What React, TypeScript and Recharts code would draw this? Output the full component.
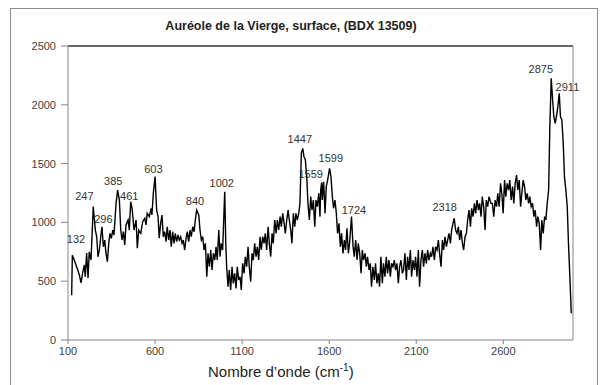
import { Line, LineChart, ReferenceDot, ReferenceLine, XAxis, YAxis } from 'recharts';

const wavenumbers = [
  121, 125, 136, 146, 156, 165, 175, 184, 194, 199, 207, 215, 222, 232, 245, 257, 265, 272, 280, 288,
  295, 303, 311, 318, 326, 334, 341, 349, 357, 364, 376, 385, 395, 403, 410, 418, 426, 433, 445, 452,
  460, 468, 479, 491, 498, 506, 518, 529, 541, 548, 555, 567, 577, 582, 590, 600,
  609, 617, 624, 632, 640, 647, 655, 663, 670, 678, 686, 693, 701, 709, 716, 724, 732, 739, 747, 755,
  762, 770, 778, 785, 793, 801, 808, 816, 824, 831, 839, 851, 858, 866, 874, 881, 889, 897, 904, 912,
  920, 927, 935, 943, 950, 957, 966, 973, 980, 988, 1000, 1006, 1011, 1019, 1026, 1034, 1042, 1049, 1057, 1065,
  1072, 1080,
  1088, 1095, 1103, 1111, 1118, 1126, 1134, 1141, 1149, 1157, 1164, 1172, 1180, 1187, 1195, 1203, 1210, 1218, 1226, 1233,
  1241, 1249, 1256, 1264, 1272, 1279, 1287, 1295, 1302, 1310, 1318, 1325, 1333, 1341, 1348, 1356, 1364, 1371, 1379, 1386,
  1394, 1402, 1409, 1417, 1425, 1432, 1440, 1448, 1455, 1463, 1471, 1478, 1486, 1494, 1501, 1509, 1517, 1524, 1532, 1540,
  1547, 1551, 1557, 1560, 1568, 1576, 1583, 1591, 1602, 1610, 1618, 1625, 1633, 1641, 1648, 1656, 1664, 1671, 1679, 1687,
  1694, 1702, 1710, 1717, 1728, 1737, 1744, 1752, 1760, 1767, 1775, 1783, 1790, 1797, 1806, 1813, 1820, 1829, 1836, 1843,
  1851, 1859, 1866, 1874, 1882, 1889, 1897, 1905, 1912, 1920, 1928, 1935, 1943, 1951, 1958, 1966, 1974, 1981, 1989, 1997,
  2004, 2012, 2020,
  2027, 2035, 2043, 2050, 2058, 2066, 2073, 2081, 2089, 2096, 2104, 2112, 2119, 2127, 2135, 2142, 2150, 2158, 2165, 2173,
  2181, 2188, 2196, 2204, 2211, 2219, 2227, 2234, 2242, 2250, 2257, 2265, 2273, 2280, 2288, 2296, 2303, 2311, 2318, 2326,
  2334, 2342, 2349, 2357, 2365, 2372, 2380, 2388, 2395, 2403, 2411, 2418, 2426, 2434, 2441, 2449, 2457, 2464, 2472, 2479,
  2487, 2495, 2502, 2510, 2518, 2529,
  2537, 2545, 2553, 2561, 2568, 2576, 2584, 2591, 2599, 2607, 2614, 2622, 2630, 2637, 2645, 2653, 2660, 2668, 2676, 2683,
  2691, 2699, 2706, 2714, 2722, 2729, 2737, 2745, 2752, 2760, 2768, 2775, 2783, 2791, 2798, 2806, 2814, 2821, 2829, 2837,
  2844, 2852, 2860, 2867, 2875, 2883, 2890, 2898, 2906, 2913, 2921, 2928, 2936, 2944, 2951, 2959, 2967, 2974, 2982, 2990,
];

const intensities = [
  380, 720, 680, 638, 595, 553, 485, 570, 638, 538, 740, 527, 750, 680, 1134, 935, 878, 708, 765, 878,
  963, 793, 850, 740, 666, 822, 907, 865, 935, 893, 1162, 1275, 1190, 935, 850, 921, 808, 978, 1020, 935,
  1176, 1120, 935, 1020, 780, 935, 907, 1006, 1035, 978, 1077, 1049, 1120, 1063, 1247, 1390,
  1105, 1049, 865, 992, 1063, 878, 921, 836, 963, 850, 935, 793, 921, 822, 907, 836, 893, 850, 878, 822,
  850, 765, 865, 921, 836, 935, 878, 963, 921, 1020, 1105, 1063, 935, 850, 878, 765, 822, 538, 737, 623,
  765, 595, 737, 680, 793, 680, 935, 708, 822, 765, 1261, 822, 623, 453, 595, 425, 623, 482, 567, 439,
  623, 510,
  538, 425, 652, 567, 708, 623, 793, 623, 496, 737, 680, 822, 708, 793, 680, 878, 765, 878, 822, 907,
  765, 963, 822, 708, 907, 822, 1020, 907, 1020, 935, 1049, 963, 1077, 992, 907, 1020, 1105, 1020, 935, 822,
  1077, 963, 1077, 1020, 1077, 1162, 1587, 1630, 1559, 1531, 1389, 1162, 1020, 1219, 1105, 1190, 963, 1190, 1134, 1247,
  1049, 1275, 1340, 1190, 1346, 1077, 1304, 1360, 1460, 1389, 1219, 1120, 1190, 1077, 907, 992, 793, 907, 737, 850,
  765, 950, 737, 822, 1049, 793, 708, 850, 680, 822, 737, 567, 765, 680, 737, 623, 708, 595, 652, 453,
  623, 510, 652, 482, 567, 453, 708, 482, 652, 538, 708, 567, 680, 538, 652, 623, 680, 595, 652, 482,
  623, 680, 567,
  595, 737, 510, 708, 595, 765, 538, 680, 595, 708, 538, 765, 453, 680, 765, 623, 737, 652, 765, 680,
  737, 708, 793, 680, 793, 765, 850, 737, 623, 850, 765, 878, 793, 850, 907, 822, 935, 992, 1035, 935,
  907, 963, 850, 935, 822, 765, 878, 907, 1020, 1105, 963, 1120, 1049, 1162, 1077, 1190, 1105, 1162, 1049, 1219,
  1134, 935, 1190, 1134, 1219, 1162,
  1162, 1049, 1190, 1134, 1247, 1134, 1332, 1247, 1077, 1360, 1219, 1332, 1275, 1360, 1190, 1304, 1162, 1332, 1403, 1275,
  1360, 1134, 1247, 1360, 1300, 1190, 1247, 1162, 1219, 1134, 1162, 1049, 1105, 963, 1049, 992, 765, 1020, 907, 1049,
  1020, 1162, 1275, 1814, 2225, 2041, 1899, 1842, 1913, 1984, 2098, 1899, 1871, 1672, 1389, 1275, 1134, 822, 538, 227,
];

// peak annotations: label text and where it sits (wavenumber, intensity)
const peakNames = ['132', '247', '296', '385', '461', '603', '840', '1002', '1447', '1559', '1599', '1724', '2318', '2875', '2911'];
const peakLabelX = [146, 194, 303, 360, 452, 590, 829, 983, 1431, 1494, 1609, 1742, 2263, 2815, 2968];
const peakLabelY = [856, 1224, 1026, 1352, 1224, 1452, 1184, 1338, 1707, 1412, 1545, 1105, 1128, 2302, 2154];

const xTicks = [100, 600, 1100, 1600, 2100, 2600];
const yTicks = [0, 500, 1000, 1500, 2000, 2500];

const data = wavenumbers.map((w, i) => ({ w, intensity: intensities[i] }));

const font = '"Liberation Sans", Arial, sans-serif';
const axisGray = '#868686';
const tickStyle = { fill: '#404040', fontSize: 11, fontFamily: font };

export default function App() {
  return (
    <div style={{ position: 'absolute', left: 0, top: 0, width: 600, height: 385, overflow: 'hidden', background: '#fff' }}>
      <div
        style={{
          position: 'absolute',
          left: 10,
          top: 8,
          width: 588,
          height: 400,
          border: '1px solid #8c8c8c',
          boxSizing: 'border-box',
        }}
      />
      <div
        style={{
          position: 'absolute',
          left: 0,
          width: 582,
          top: 19,
          textAlign: 'center',
          fontFamily: font,
          fontWeight: 'bold',
          fontSize: 12.5,
          color: '#222',
        }}
      >
        Auréole de la Vierge, surface, (BDX 13509)
      </div>
      <div style={{ position: 'absolute', left: 0, top: 0 }}>
        <LineChart width={600} height={385} data={data} margin={{ top: 46, right: 27, bottom: 15, left: 0 }}>
          <XAxis
            dataKey="w"
            type="number"
            domain={[100, 3000]}
            ticks={xTicks}
            allowDataOverflow
            tickSize={4}
            tickMargin={3}
            tick={tickStyle}
            axisLine={{ stroke: axisGray }}
            tickLine={{ stroke: axisGray }}
            height={30}
          />
          <YAxis
            type="number"
            domain={[0, 2500]}
            ticks={yTicks}
            width={68}
            tickSize={7}
            tickMargin={5}
            tick={tickStyle}
            axisLine={{ stroke: axisGray }}
            tickLine={{ stroke: axisGray }}
          />
          <ReferenceLine y={2500} stroke="#333" strokeWidth={1.5} />
          <ReferenceLine x={3000} stroke={axisGray} />
          <Line
            dataKey="intensity"
            type="linear"
            stroke="#000"
            strokeWidth={1.4}
            dot={false}
            isAnimationActive={false}
          />
          {peakNames.map((name, i) => (
            <ReferenceDot
              key={name}
              x={peakLabelX[i]}
              y={peakLabelY[i]}
              r={0}
              fill="none"
              stroke="none"
              label={{ value: name, position: 'center', fill: '#333', fontSize: 11, fontFamily: font }}
            />
          ))}
        </LineChart>
      </div>
      <div
        style={{
          position: 'absolute',
          left: 208,
          top: 362,
          fontFamily: font,
          fontSize: 15,
          color: '#222',
          whiteSpace: 'nowrap',
        }}
      >
        Nombre d’onde (cm<sup style={{ fontSize: 10 }}>-1</sup>)
      </div>
    </div>
  );
}
